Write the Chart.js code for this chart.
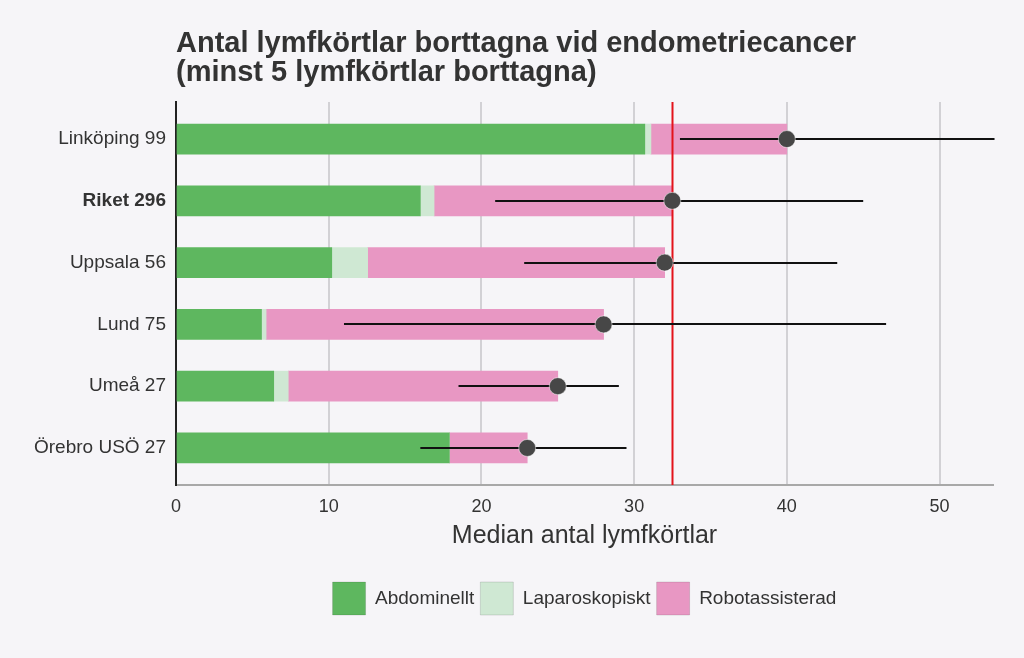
<!DOCTYPE html>
<html>
<head>
<meta charset="utf-8">
<script src="https://cdn.jsdelivr.net/npm/chart.js"></script>
<style>
  html, body { margin: 0; padding: 0; background: #f6f5f8; }
  canvas { display: block; }
</style>
</head>
<body>
<canvas id="chart" width="1024" height="658"></canvas>
<script>
// data
const labels = ['Linköping 99', 'Riket 296', 'Uppsala 56', 'Lund 75', 'Umeå 27', 'Örebro USÖ 27'];
const highlight = 'Riket 296';
const abdominellt = [30.7, 16.0, 10.2, 5.6, 6.4, 17.9];
const laparoskopiskt = [0.4, 0.9, 2.35, 0.3, 0.95, 0];
const robotassisterad = [8.9, 15.6, 19.45, 22.1, 17.65, 5.1];
const median = [40, 32.5, 32, 28, 25, 23];
const errLow = [33.0, 20.9, 22.8, 11.0, 18.5, 16.0];
const errHigh = [53.6, 45.0, 43.3, 46.5, 29.0, 29.5];
const referenceValue = 32.5;
const xTicks = [0, 10, 20, 30, 40, 50];
const titleLines = ['Antal lymfkörtlar borttagna vid endometriecancer', '(minst 5 lymfkörtlar borttagna)'];
const xTitle = 'Median antal lymfkörtlar';

const FONT = '"Liberation Sans", Arial, sans-serif';
const toPoints = arr => arr.map((v, i) => ({ x: v, y: i }));

const bgPlugin = {
  id: 'bg',
  beforeDraw(chart) {
    const { ctx, width, height } = chart;
    ctx.save();
    ctx.fillStyle = '#f6f5f8';
    ctx.fillRect(0, 0, width, height);
    ctx.restore();
  },
  // legend is centred under the plot area, not the whole canvas
  afterLayout(chart) {
    chart.legend.left = chart.chartArea.left;
    chart.legend.right = chart.chartArea.right;
  }
};

// red reference line + error bars, drawn just before the median dots
const overlayPlugin = {
  id: 'overlay',
  beforeDatasetDraw(chart, args) {
    if (args.meta.type !== 'scatter') return;
    const { ctx, chartArea } = chart;
    const x = chart.scales.x, y = chart.scales.y;
    ctx.save();
    ctx.strokeStyle = '#e3131b';
    ctx.lineWidth = 2;
    const rx = Math.round(x.getPixelForValue(referenceValue)) + 0.5;
    ctx.beginPath();
    ctx.moveTo(rx, chartArea.top);
    ctx.lineTo(rx, chartArea.bottom);
    ctx.stroke();
    ctx.strokeStyle = '#111';
    ctx.lineWidth = 2;
    errLow.forEach((lo, i) => {
      const py = Math.round(y.getPixelForValue(i));
      ctx.beginPath();
      ctx.moveTo(x.getPixelForValue(lo), py);
      ctx.lineTo(x.getPixelForValue(errHigh[i]), py);
      ctx.stroke();
    });
    ctx.restore();
  }
};

const titlePlugin = {
  id: 'leftTitle',
  afterDraw(chart) {
    const { ctx, chartArea } = chart;
    ctx.save();
    ctx.font = 'bold 29px ' + FONT;
    ctx.fillStyle = '#333';
    ctx.textBaseline = 'alphabetic';
    titleLines.forEach((t, i) => ctx.fillText(t, chartArea.left, 52 + i * 29));
    ctx.restore();
  }
};

new Chart(document.getElementById('chart'), {
  type: 'bar',
  data: {
    datasets: [
      { label: 'Abdominellt', data: toPoints(abdominellt), backgroundColor: '#5eb75f', stack: 's', barThickness: 30, borderWidth: 0 },
      { label: 'Laparoskopiskt', data: toPoints(laparoskopiskt), backgroundColor: '#cfe8d3', stack: 's', barThickness: 30, borderWidth: 0 },
      { label: 'Robotassisterad', data: toPoints(robotassisterad), backgroundColor: '#e897c3', stack: 's', barThickness: 30, borderWidth: 0 },
      { type: 'scatter', label: 'Median', data: toPoints(median), order: -1,
        pointRadius: 8.5, pointBackgroundColor: '#474747', pointBorderColor: 'rgba(255,255,255,0.5)', pointBorderWidth: 1 }
    ]
  },
  options: {
    indexAxis: 'y',
    responsive: false,
    animation: false,
    devicePixelRatio: 1,
    layout: { padding: { top: 102, right: 31, bottom: 33, left: 0 } },
    scales: {
      x: {
        type: 'linear',
        min: 0, max: 53.5,
        offset: false,
        afterBuildTicks: s => { s.ticks = xTicks.map(v => ({ value: v })); },
        afterFit: s => { s.height = 91; },
        grid: { color: '#d2d1d5', lineWidth: 2, drawTicks: false },
        border: { color: '#a8a8a8', width: 2 },
        ticks: { padding: 11, color: '#333', font: { family: FONT, size: 18 } },
        title: { display: true, text: xTitle, color: '#333', font: { family: FONT, size: 25 }, padding: { top: 0, bottom: 25 } }
      },
      y: {
        type: 'linear',
        min: -0.6, max: 5.6,
        offset: false,
        reverse: true,
        afterBuildTicks: s => { s.ticks = labels.map((_, i) => ({ value: i })); },
        afterFit: s => { s.width = 176; },
        grid: { display: false, drawTicks: false },
        border: { color: '#222', width: 2 },
        ticks: {
          padding: 10,
          color: '#333',
          callback: v => labels[v],
          font: ctx => ({ family: FONT, size: 19, weight: ctx.tick && labels[ctx.tick.value] === highlight ? 'bold' : 'normal' })
        }
      }
    },
    plugins: {
      tooltip: { enabled: false },
      legend: {
        position: 'bottom',
        labels: {
          boxWidth: 33, boxHeight: 33, padding: 6,
          color: '#333',
          font: { family: FONT, size: 19 },
          filter: item => item.text !== 'Median',
          generateLabels: chart => Chart.defaults.plugins.legend.labels.generateLabels(chart)
            .map(l => Object.assign(l, { lineWidth: 1, strokeStyle: 'rgba(0,0,0,0.12)' }))
        }
      }
    }
  },
  plugins: [bgPlugin, overlayPlugin, titlePlugin]
});
</script>
</body>
</html>
